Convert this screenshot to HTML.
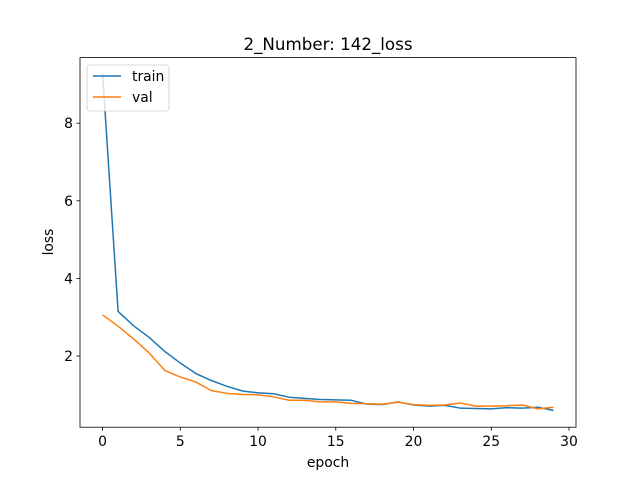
<!DOCTYPE html>
<html><head><meta charset="utf-8"><style>
html,body{margin:0;padding:0;background:#fff;}
svg{display:block;font-family:"DejaVu Sans","Liberation Sans",sans-serif;}
</style></head><body>
<svg id="chart" width="640" height="480" xmlns="http://www.w3.org/2000/svg">
<rect width="640" height="480" fill="#fff"/>
<text x="328" y="50" font-size="16.7" text-anchor="middle">2_Number: 142_loss</text>
<g id="plot"></g>
<rect x="80" y="57.6" width="496" height="369.6" fill="none" stroke="#000" stroke-width="0.8"/>
<text x="328" y="467" font-size="13.9" text-anchor="middle">epoch</text>
<text x="0" y="0" font-size="13.9" text-anchor="middle" transform="translate(53,242) rotate(-90)">loss</text>
<g>
<rect x="87" y="65" width="82" height="46" rx="3" fill="#fff" fill-opacity="0.8" stroke="#ccc" stroke-width="0.8"/>
<line x1="93" y1="76" x2="121" y2="76" stroke="#1f77b4" stroke-width="1.5"/>
<text x="132" y="81" font-size="13.9">train</text>
<line x1="93" y1="97" x2="121" y2="97" stroke="#ff7f0e" stroke-width="1.5"/>
<text x="132" y="102" font-size="13.9">val</text>
</g>
</svg>
<script>
const epochs = [0,1,2,3,4,5,6,7,8,9,10,11,12,13,14,15,16,17,18,19,20,21,22,23,24,25,26,27,28,29];
const trainLoss = [9.29,3.15,2.78,2.48,2.12,1.82,1.55,1.37,1.22,1.10,1.05,1.03,0.94,0.91,0.88,0.87,0.86,0.76,0.75,0.82,0.74,0.71,0.73,0.66,0.65,0.64,0.67,0.66,0.68,0.60];
const valLoss = [3.06,2.77,2.44,2.08,1.63,1.46,1.33,1.11,1.04,1.01,1.00,0.95,0.86,0.86,0.82,0.82,0.78,0.77,0.76,0.81,0.75,0.73,0.74,0.79,0.71,0.71,0.72,0.74,0.64,0.68];
const xTicks = [0,5,10,15,20,25,30];
const yTicks = [2,4,6,8];
const L=80,R=576,T=57.6,B=427.2;
const xmin=-1.45,xmax=30.45,ymin=0.167,ymax=9.69;
const NS='http://www.w3.org/2000/svg';
function xs(v){return L+(v-xmin)/(xmax-xmin)*(R-L);}
function ys(v){return B-(v-ymin)/(ymax-ymin)*(B-T);}
const svg=document.getElementById('chart');
const plot=document.getElementById('plot');
function mk(tag,attrs,parent){const e=document.createElementNS(NS,tag);for(const k in attrs)e.setAttribute(k,attrs[k]);(parent||svg).appendChild(e);return e;}
xTicks.forEach(t=>{
  const x=xs(t);
  const l=mk('line',{x1:x,x2:x,y1:B,y2:B+3.5,stroke:'#000','stroke-width':0.8});
  
  
  const tx=mk('text',{x:x,y:B+19,'font-size':13.9,'text-anchor':'middle'});
  tx.textContent=t;
  
  
});
yTicks.forEach(t=>{
  const y=ys(t);
  const l=mk('line',{x1:L-3.5,x2:L,y1:y,y2:y,stroke:'#000','stroke-width':0.8});
  
  
  const tx=mk('text',{x:L-7,y:y+5,'font-size':13.9,'text-anchor':'end'});
  tx.textContent=t;
  
  
});
function line(vals,color,name){
  const d=vals.map((v,i)=>(i?'L':'M')+xs(epochs[i]).toFixed(2)+','+ys(v).toFixed(2)).join('');
  const p=mk('path',{d:d,fill:'none',stroke:color,'stroke-width':1.5,'stroke-linejoin':'round'},plot);
  
  
}
line(trainLoss,'#1f77b4','train-line');
line(valLoss,'#ff7f0e','val-line');
</script>
</body></html>
